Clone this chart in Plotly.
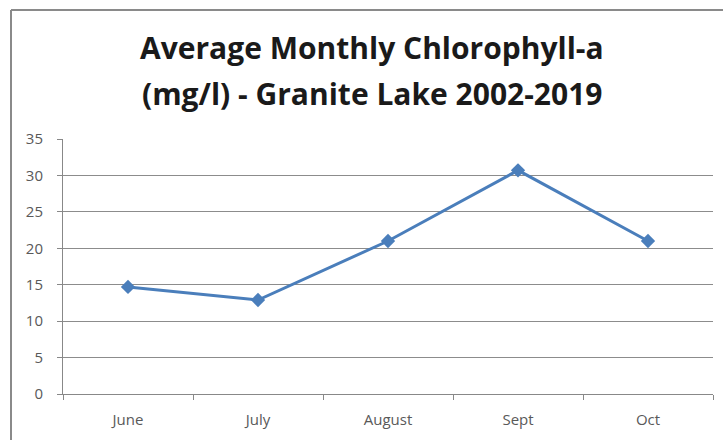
import plotly.graph_objects as go

months = ["June", "July", "August", "Sept", "Oct"]
chl = [14.7, 12.9, 21.0, 30.7, 21.0]
y_ticks = [0, 5, 10, 15, 20, 25, 30, 35]
title_lines = ["Average Monthly Chlorophyll-a", "(mg/l) - Granite Lake 2002-2019"]

W, H = 723, 440
L, R, T, B = 63, 10, 139, 46
pw, ph = W - L - R, H - T - B

def px(x):
    return (x - L) / pw

def py(y):
    return (H - B - y) / ph

fig = go.Figure()
fig.add_trace(go.Scatter(
    x=months, y=chl, mode="lines+markers",
    line=dict(color="#4a7ebb", width=3),
    marker=dict(symbol="diamond", size=11, color="#4a7ebb"),
    showlegend=False,
))

axis_font = dict(family="Open Sans, sans-serif", size=15, color="#595959")
fig.update_layout(
    width=W, height=H,
    margin=dict(l=L, r=R, t=T, b=B),
    paper_bgcolor="white", plot_bgcolor="white",
    xaxis=dict(
        type="category", range=[-0.5, 4.5], tickson="boundaries", ticks="outside", ticklen=5,
        tickcolor="#888888", showline=True, linecolor="#888888", linewidth=1,
        showgrid=False, tickfont=axis_font, ticklabelstandoff=12,
    ),
    yaxis=dict(
        range=[0, 35], tickvals=y_ticks, ticks="outside", ticklen=5,
        tickcolor="#888888", showline=True, linecolor="#888888", linewidth=1,
        showgrid=True, gridcolor="#8c8c8c", gridwidth=1, zeroline=False,
        tickfont=axis_font, ticklabelstandoff=11,
    ),
    shapes=[
        dict(type="line", xref="paper", yref="paper", x0=px(11), x1=px(11),
             y0=py(H + 5), y1=py(10), line=dict(color="#8a8a8a", width=2)),
        dict(type="line", xref="paper", yref="paper", x0=px(11), x1=px(W + 5),
             y0=py(10), y1=py(10), line=dict(color="#8a8a8a", width=2)),
    ],
)

for text, yc in zip(title_lines, [48, 93]):
    fig.add_annotation(
        text=text, xref="paper", yref="paper", x=px(372), y=py(yc),
        xanchor="center", yanchor="middle", showarrow=False,
        font=dict(family="Open Sans, sans-serif", size=30, color="#1a1a1a", weight="bold"),
    )

fig.write_html("out.html")
